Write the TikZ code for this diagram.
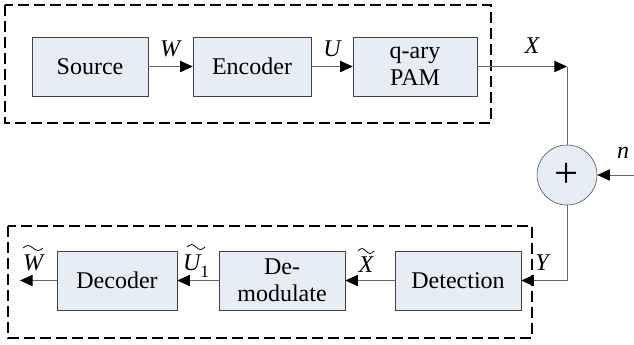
\documentclass[tikz,border=0pt]{standalone}
\usepackage{fontspec}
\setmainfont{Liberation Serif}
\usetikzlibrary{arrows.meta}

\definecolor{blockfill}{RGB}{231,237,247}

\tikzset{block/.style = {rectangle, draw=black!75, fill=blockfill, inner sep=0pt,
                         minimum width=#1, minimum height=44.25pt, align=center,
                         font=\fontsize{18}{20}\selectfont},
         block/.default=89pt,
         sumnode/.style = {circle, draw=black!75, fill=blockfill, inner sep=0pt,
                           minimum size=45pt},
         link/.style = {draw=black!60, line width=0.7pt},
         flow/.style = {link, -{Triangle[length=9.5pt,width=8.5pt,color=black]}},
         group/.style = {draw=black, line width=1.2pt, dash pattern=on 8pt off 4pt},
         sig/.style = {inner sep=0pt, anchor=base, font=\fontsize{18}{20}\selectfont\itshape},
         tildemark/.style = {draw=black, line width=0.6pt}
        }

\begin{document}
\begin{tikzpicture}[x=0.75pt, y=-0.75pt]
  \useasboundingbox (0,0) rectangle (634,344);

  % transmitter and receiver groups
  \draw[group] (5,5) rectangle (491,123);
  \draw[group] (8,226) rectangle (532,338);

  \node[block=87pt]   (source)  at (90,66.5)   {Source};
  \node[block=88.5pt] (encoder) at (252,66.5)  {Encoder};
  \node[block=93pt]   (pam)     at (415,66.5)  {q-ary\\PAM};
  \node[sumnode]      (adder)   at (567,175)   {\fontsize{32}{32}\selectfont +};
  \node[block=94.5pt] (detect)  at (458,280.5) {Detection};
  \node[block=94.5pt] (demod)   at (282,280.5) {De-\\modulate};
  \node[block=90pt]   (decoder) at (117,280.5) {Decoder};

  \coordinate (xc)   at (567,66.5);
  \coordinate (nin)  at (634,175);
  \coordinate (wout) at (20,280.5);

  % connectors
  \draw[flow] (source) -- (encoder);
  \draw[flow] (encoder) -- (pam);
  \draw[flow] (pam) -- (xc);
  \draw[link] (xc) -- (adder);
  \draw[flow] (nin) -- (adder);
  \draw[flow] (adder.south) |- (detect.east);
  \draw[flow] (detect) -- (demod);
  \draw[flow] (demod) -- (decoder);
  \draw[flow] (decoder) -- (wout);

  % signal names
  \node[sig] (lw)  at (170,56)  {W};
  \node[sig] (lu)  at (332,56)  {U};
  \node[sig] (lx)  at (532,53)  {X};
  \node[sig] (ln)  at (623,158) {n};
  \node[sig] (ly)  at (542,270) {Y};
  \node[sig] (lxt) at (366,272) {X};
  \node[sig] (lut) at (196,270) {U\raisebox{-0.3em}{\upshape\fontsize{13}{13}\selectfont 1}};
  \node[sig] (lwt) at (33,270)  {W};

  % tildes over the estimates
  \draw[tildemark] (lwt.north) ++(-10,-6) sin ++(5,-2.5) cos ++(5,2.5) sin ++(5,2.5) cos ++(5,-2.5);
  \draw[tildemark] (lut.north) ++(-9,-7) sin ++(4.5,-2.5) cos ++(4.5,2.5) sin ++(4.5,2.5) cos ++(4.5,-2.5);
  \draw[tildemark] (lxt.north) ++(-8,-5) sin ++(4,-2.5) cos ++(4,2.5) sin ++(4,2.5) cos ++(4,-2.5);
\end{tikzpicture}
\end{document}
